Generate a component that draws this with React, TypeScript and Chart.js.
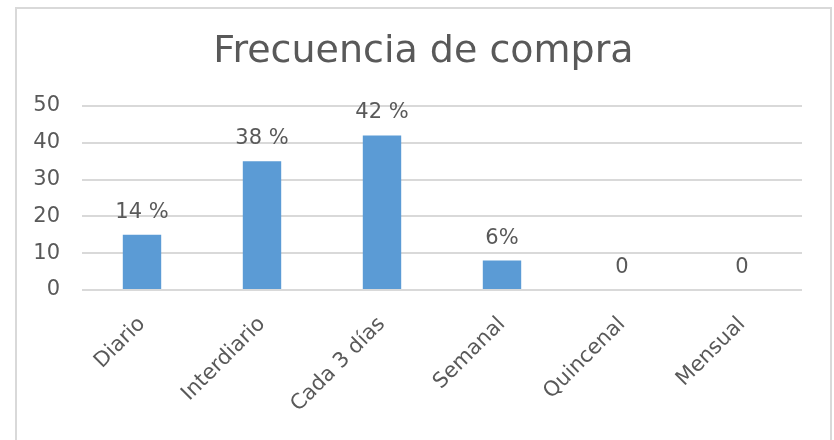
import React, { useEffect, useRef } from "react";
import { Chart, registerables } from "chart.js";

Chart.register(...registerables);

const categories = ["Diario", "Interdiario", "Cada 3 días", "Semanal", "Quincenal", "Mensual"];
const values = [15, 35, 42, 8, 0, 0];
const valueLabels = ["14 %", "38 %", "42 %", "6%", "0", "0"];
const yTicks = [0, 10, 20, 30, 40, 50];
const chartTitle = "Frecuencia de compra";

const FONT = "'DejaVu Sans', sans-serif";
const TEXT = "#595959";

const barLabelPlugin = {
  id: "barLabels",
  afterDatasetsDraw(chart: any) {
    const ctx = chart.ctx;
    const meta = chart.getDatasetMeta(0);
    ctx.save();
    ctx.font = `21px ${FONT}`;
    ctx.fillStyle = TEXT;
    ctx.textAlign = "center";
    ctx.textBaseline = "alphabetic";
    meta.data.forEach((bar: any, i: number) => {
      ctx.fillText(valueLabels[i], bar.x, bar.y - 17);
    });
    ctx.restore();
  },
};

// centre the title on the framed chart box rather than on the padded area
const titleCentrePlugin = {
  id: "titleCentre",
  afterLayout(chart: any) {
    const t = chart.titleBlock;
    if (t) {
      t.left = 13;
      t.right = 834;
    }
  },
};

export default function App() {
  const ref = useRef<HTMLCanvasElement | null>(null);
  useEffect(() => {
    if (!ref.current) return;
    const chart = new Chart(ref.current, {
      type: "bar",
      data: {
        labels: categories,
        datasets: [
          {
            data: values,
            backgroundColor: "#5b9bd5",
            borderWidth: 0,
            barPercentage: 0.32,
            categoryPercentage: 1,
          },
        ],
      },
      options: {
        responsive: false,
        animation: false,
        layout: { padding: { left: 20, right: 32, top: 0, bottom: 0 } },
        plugins: {
          legend: { display: false },
          tooltip: { enabled: false },
          title: {
            display: true,
            text: chartTitle,
            color: TEXT,
            font: { family: FONT, size: 38, weight: "normal", lineHeight: 1.2 },
            padding: { top: 29, bottom: 31.4 },
          },
        },
        scales: {
          x: {
            grid: { display: false, drawTicks: false },
            border: { display: false },
            ticks: {
              color: TEXT,
              font: { family: FONT, size: 21 },
              minRotation: 45,
              maxRotation: 45,
              autoSkip: false,
              padding: 22,
            },
            afterFit(scale: any) {
              scale.height = 150;
            },
          },
          y: {
            min: 0,
            max: 50,
            afterBuildTicks(scale: any) {
              scale.ticks = yTicks.map((v) => ({ value: v }));
            },
            grid: { color: "#d9d9d9", lineWidth: 2, drawTicks: false },
            border: { display: false },
            ticks: {
              color: TEXT,
              font: { family: FONT, size: 21 },
              padding: 22,
            },
            afterFit(scale: any) {
              scale.width = 62;
            },
          },
        },
      },
      plugins: [barLabelPlugin, titleCentrePlugin],
    });
    return () => chart.destroy();
  }, []);

  return (
    <div style={{ position: "absolute", left: 0, top: 0, width: 834, height: 440, background: "#fff" }}>
      <canvas ref={ref} width={834} height={440} style={{ position: "absolute", left: 0, top: 0 }} />
      <div
        style={{
          position: "absolute",
          left: 15,
          top: 7,
          width: 817,
          height: 440,
          border: "2px solid #d9d9d9",
          boxSizing: "border-box",
          pointerEvents: "none",
        }}
      />
    </div>
  );
}
